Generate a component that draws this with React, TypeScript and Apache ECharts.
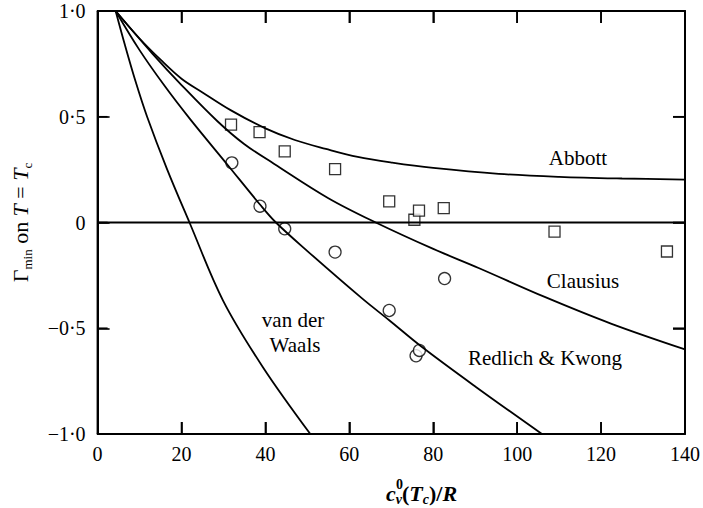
import React, { useEffect, useRef } from "react";
import * as echarts from "echarts";

// Axis ticks
const xTickValues = [0, 20, 40, 60, 80, 100, 120, 140];
const yTickValues = [-1, -0.5, 0, 0.5, 1];
const yTickLabels = ["−1·0", "−0·5", "0", "0·5", "1·0"];

// Curves [x, y]
const abbott = [[4.3, 1], [10, 0.87], [15, 0.77], [20, 0.68], [25, 0.615], [31.8, 0.53], [40, 0.445], [47, 0.39], [54.4, 0.348], [62, 0.31], [70.2, 0.283], [80, 0.258], [95.6, 0.23], [110, 0.216], [125, 0.208], [140, 0.203]];
const clausius = [[4.3, 1], [13, 0.8], [20, 0.65], [28.5, 0.48], [35, 0.37], [42.1, 0.277], [55, 0.115], [66.3, 0], [80, -0.125], [90.8, -0.215], [106.7, -0.353], [122.5, -0.479], [140, -0.6]];
const redlichKwong = [[4.3, 1], [10, 0.815], [16, 0.645], [22, 0.49], [31, 0.272], [38.7, 0.085], [42.5, 0], [50, -0.135], [63.1, -0.36], [69.5, -0.462], [77.4, -0.59], [90, -0.775], [105.9, -1]];
const vanDerWaals = [[4.3, 1], [6.5, 0.84], [9, 0.67], [11.8, 0.5], [16.5, 0.255], [21.9, 0], [29.9, -0.369], [39.4, -0.684], [50.7, -1]];
const zeroLine = [[0, 0], [140, 0]];

// Experimental points
const squares = [[31.8, 0.463], [38.6, 0.427], [44.6, 0.336], [56.6, 0.252], [69.5, 0.1], [75.5, 0.013], [76.6, 0.056], [82.5, 0.068], [108.9, -0.043], [135.7, -0.137]];
const circles = [[32, 0.282], [38.7, 0.077], [44.6, -0.03], [56.6, -0.14], [69.5, -0.416], [75.9, -0.63], [76.7, -0.605], [82.7, -0.265]];

const FONT = "Liberation Serif";

export default function App() {
  const ref = useRef<HTMLDivElement>(null);
  useEffect(() => {
    document.body.style.margin = "0";
    const chart = echarts.init(ref.current!, null, { renderer: "svg" });
    const axisLine = () => ({ show: true, onZero: false, lineStyle: { color: "#000", width: 2 } });
    const tick = () => ({ show: true, inside: true, length: 12, lineStyle: { color: "#000", width: 1.6 } });
    const lineSeries = (name: string, data: number[][]) => ({
      name,
      type: "line",
      data,
      smooth: 0.35,
      symbol: "none",
      lineStyle: { color: "#000", width: 1.8 },
    });
    const rich = {
      n: { fontFamily: FONT, fontSize: 22, lineHeight: 26, verticalAlign: "middle", color: "#000" },
      i: { fontFamily: FONT, fontSize: 22, fontStyle: "italic", lineHeight: 26, verticalAlign: "middle", color: "#000" },
      s: { fontFamily: FONT, fontSize: 13, lineHeight: 13, verticalAlign: "bottom", color: "#000" },
      si: { fontFamily: FONT, fontSize: 14, lineHeight: 13, verticalAlign: "bottom", fontStyle: "italic", color: "#000" },
      sup: { fontFamily: FONT, fontSize: 14, lineHeight: 13, verticalAlign: "top", color: "#000" },
    };
    const label = (text: string, left: number, top: number) => ({
      text,
      left,
      top,
      padding: 0,
      textAlign: "center",
      textVerticalAlign: "middle",
      textStyle: { fontFamily: FONT, fontSize: 21, fontWeight: "normal", color: "#000" },
    });

    // Frame and inside ticks on all four sides, placed through the axes' scales
    const frameSeries = {
      name: "frame",
      type: "custom",
      silent: true,
      clip: false,
      data: [[0, 0]],
      z: 10,
      renderItem: (_params: any, api: any) => {
        const [xL, yB] = api.coord([xTickValues[0], yTickValues[0]]);
        const [xR, yT] = api.coord([xTickValues[xTickValues.length - 1], yTickValues[yTickValues.length - 1]]);
        const st = { stroke: "#000", lineWidth: 1.6 };
        const children: any[] = [
          { type: "line", shape: { x1: xL, y1: yB, x2: xR, y2: yB }, style: { stroke: "#000", lineWidth: 2 } },
          { type: "line", shape: { x1: xL, y1: yT, x2: xR, y2: yT }, style: { stroke: "#000", lineWidth: 2 } },
          { type: "line", shape: { x1: xL, y1: yB, x2: xL, y2: yT }, style: { stroke: "#000", lineWidth: 2 } },
          { type: "line", shape: { x1: xR, y1: yB, x2: xR, y2: yT }, style: { stroke: "#000", lineWidth: 2 } },
        ];
        xTickValues.slice(1, -1).forEach((v) => {
          const x = api.coord([v, 0])[0];
          children.push({ type: "line", shape: { x1: x, y1: yB, x2: x, y2: yB - 12 }, style: st });
          children.push({ type: "line", shape: { x1: x, y1: yT, x2: x, y2: yT + 12 }, style: st });
        });
        yTickValues.slice(1, -1).forEach((v) => {
          const y = api.coord([0, v])[1];
          children.push({ type: "line", shape: { x1: xL, y1: y, x2: xL + 10, y2: y }, style: st });
          children.push({ type: "line", shape: { x1: xR, y1: y, x2: xR - 12, y2: y }, style: st });
        });
        return { type: "group", children };
      },
    };

    const option: any = {
      animation: false,
      title: [
        label("Abbott", 578, 158),
        label("Clausius", 583, 281),
        label("Redlich & Kwong", 545, 358),
        label("van der", 293, 320),
        label("Waals", 295, 345),
        {
          text: "{i|c}{si|v}{n|(}{i|T}{si|c}{n|)/}{i|R}",
          left: 386,
          top: 480,
          padding: 0,
          textStyle: { rich, fontFamily: FONT, fontSize: 22, color: "#000" },
        },
        {
          text: "{sup|0}",
          left: 396,
          top: 477,
          padding: 0,
          textStyle: { rich, fontFamily: FONT, fontSize: 14, color: "#000" },
        },
      ],
      grid: { left: 97.6, right: 16, top: 11, bottom: 74 },
      xAxis: [
        {
          type: "value", min: 0, max: 140, interval: 20, position: "bottom",
          axisLine: axisLine(), axisTick: tick(), splitLine: { show: false },
          axisLabel: {
            color: "#000", fontFamily: FONT, fontSize: 20, margin: 10,
            formatter: (v: number) => (xTickValues.includes(v) ? String(v) : ""),
          },
        },
        {
          type: "value", min: 0, max: 140, interval: 20, position: "top",
          axisLine: axisLine(), axisTick: tick(), splitLine: { show: false }, axisLabel: { show: false },
        },
      ],
      yAxis: [
        {
          type: "value", min: -1, max: 1, interval: 0.5, position: "left",
          axisLine: axisLine(), axisTick: tick(), splitLine: { show: false },
          name: "{n|Γ}{s|min}{n| on }{i|T}{n| = }{i|T}{s|c}",
          nameLocation: "middle",
          nameRotate: 90,
          nameGap: 64,
          nameTextStyle: { rich, fontFamily: FONT, fontSize: 22, color: "#000" },
          axisLabel: {
            color: "#000", fontFamily: FONT, fontSize: 20, margin: 12,
            formatter: (v: number) => {
              const i = yTickValues.findIndex((t) => Math.abs(t - v) < 1e-9);
              return i >= 0 ? yTickLabels[i] : "";
            },
          },
        },
        {
          type: "value", min: -1, max: 1, interval: 0.5, position: "right",
          axisLine: axisLine(), axisTick: tick(), splitLine: { show: false }, axisLabel: { show: false },
        },
      ],
      series: [
        {
          name: "zero", type: "line", data: zeroLine, xAxisIndex: 1, yAxisIndex: 1,
          symbol: "none", lineStyle: { color: "#000", width: 1.8 },
        },
        lineSeries("Abbott", abbott),
        lineSeries("Clausius", clausius),
        lineSeries("Redlich & Kwong", redlichKwong),
        lineSeries("van der Waals", vanDerWaals),
        {
          name: "squares", type: "scatter", data: squares, symbol: "rect", symbolSize: 11,
          itemStyle: { color: "#fff", borderColor: "#000", borderWidth: 1.3 },
        },
        {
          name: "circles", type: "scatter", data: circles, symbol: "circle", symbolSize: 12,
          itemStyle: { color: "#fff", borderColor: "#000", borderWidth: 1.3 },
        },
        frameSeries,
      ],
    };
    chart.setOption(option);
    return () => chart.dispose();
  }, []);
  return (
    <div
      ref={ref}
      style={{ position: "absolute", left: 0, top: 0, width: 703, height: 508 }}
    />
  );
}
